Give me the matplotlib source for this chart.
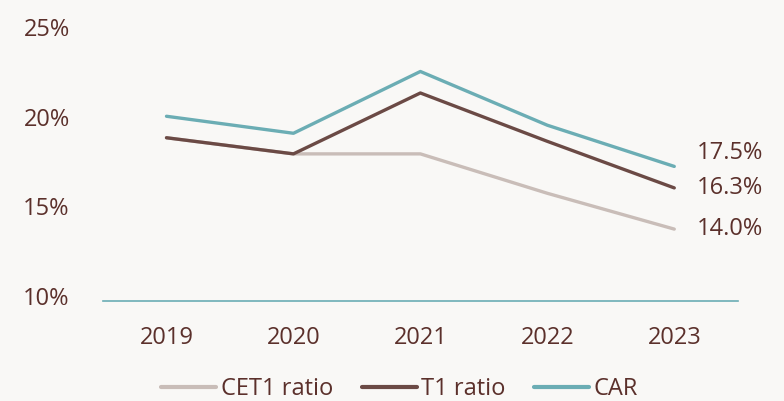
import matplotlib.pyplot as plt
import matplotlib
import matplotlib.transforms as mtransforms

matplotlib.rcParams['font.family'] = ['Open Sans', 'DejaVu Sans']

# === data ===
years = ['2019', '2020', '2021', '2022', '2023']
cet1 = [19.1, 18.2, 18.2, 16.0, 14.0]
t1 = [19.1, 18.2, 21.6, 18.9, 16.3]
car = [20.3, 19.35, 22.8, 19.8, 17.5]
end_labels = ['14.0%', '16.3%', '17.5%']

text_color = '#5b302b'
bg = '#f9f8f6'
c_cet1 = '#c9bdb8'
c_t1 = '#6b4a45'
c_car = '#6badb4'

fig = plt.figure(figsize=(7.84, 4.01), dpi=100, facecolor=bg)
ax = fig.add_axes([0.1314, 0.250, 0.8096, 0.670], facecolor=bg)

x = list(range(len(years)))
ax.plot(x, cet1, color=c_cet1, lw=2.4, label='CET1 ratio', solid_capstyle='round')
ax.plot(x, t1, color=c_t1, lw=2.4, label='T1 ratio', solid_capstyle='round')
ax.plot(x, car, color=c_car, lw=2.4, label='CAR', solid_capstyle='round')

# 末端数值标签
offsets = [0, 0, 9.5]
for vals, lab, dy in zip([cet1, t1, car], end_labels, offsets):
    ax.annotate(lab, xy=(x[-1], vals[-1]), xytext=(16, dy), textcoords='offset points',
                ha='left', va='center', fontsize=17, color=text_color)

ax.set_xlim(-0.5, 4.5)
ax.set_ylim(10, 25)
ax.set_yticks([10, 15, 20, 25])
ax.set_yticklabels(['10%', '15%', '20%', '25%'])
ax.set_xticks(x)
ax.set_xticklabels(years)
ax.tick_params(axis='y', length=0, pad=24, labelsize=17, colors=text_color)
ax.tick_params(axis='x', length=0, pad=18, labelsize=17, colors=text_color)
# y轴标签稍微上移
shift = mtransforms.ScaledTranslation(0, 3.5 / 72, fig.dpi_scale_trans)
for lbl in ax.get_yticklabels():
    lbl.set_transform(lbl.get_transform() + shift)
for s in ['top', 'right', 'left']:
    ax.spines[s].set_visible(False)
ax.spines['bottom'].set_color(c_car)
ax.spines['bottom'].set_linewidth(1.2)

leg = fig.legend(loc='center', bbox_to_anchor=(0.51, 0.029), ncol=3, frameon=False,
                 fontsize=17, handlelength=2.33, columnspacing=1.2, handletextpad=0.2)
for t in leg.get_texts():
    t.set_color(text_color)
for l in leg.get_lines():
    l.set_linewidth(3)

fig.savefig('out.png', dpi=100, facecolor=bg)
